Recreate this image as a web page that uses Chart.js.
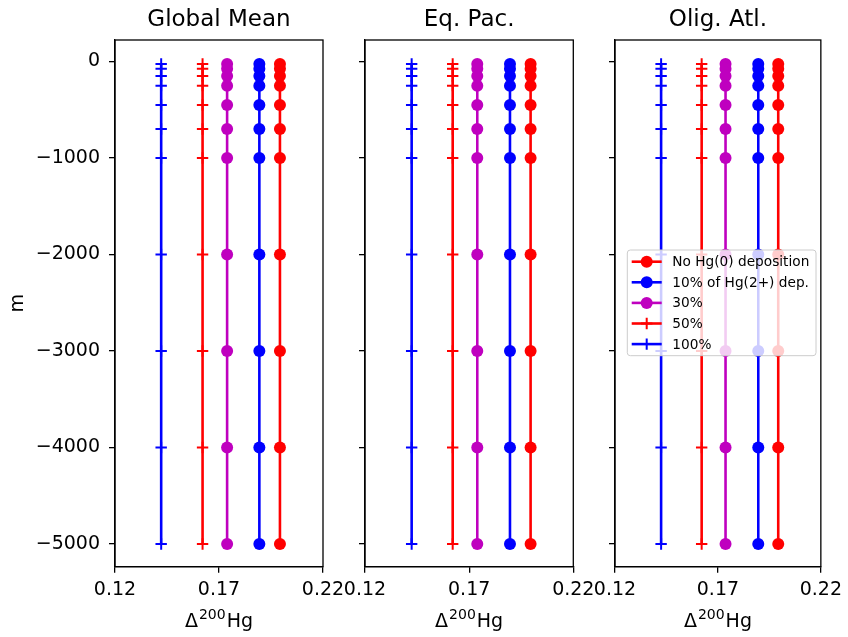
<!DOCTYPE html>
<html>
<head>
<meta charset="utf-8">
<script src="https://cdn.jsdelivr.net/npm/chart.js@4.4.0/dist/chart.umd.min.js"></script>
<style>
    html, body { margin: 0; padding: 0; background: #fff; }
    #wrap { position: relative; width: 848px; height: 637px; }
    canvas { position: absolute; left: 0; top: 0; }
</style>
</head>
<body>
<div id="wrap">
    <canvas id="c1" width="848" height="637"></canvas>
    <canvas id="c2" width="848" height="637"></canvas>
    <canvas id="c3" width="848" height="637"></canvas>
</div>
<script>
// depth levels (m) shared by every profile
const depths = [-25, -75, -150, -250, -450, -700, -1000, -2000, -3000, -4000, -5000];
const xTicks = [0.12, 0.17, 0.22];
const yTicks = [0, -1000, -2000, -3000, -4000, -5000];
const panelTitles = ["Global Mean", "Eq. Pac.", "Olig. Atl."];

const seriesLabels = ["No Hg(0) deposition", "10% of Hg(2+) dep.", "30%", "50%", "100%"];
const seriesColors = ["#ff0000", "#0000ff", "#bf00bf", "#ff0000", "#0000ff"];
const seriesMarkers = ["circle", "circle", "circle", "cross", "cross"];

// Global Mean
const globalNoDep = [0.1993, 0.1993, 0.1993, 0.1993, 0.1993, 0.1993, 0.1993, 0.1993, 0.1993, 0.1993, 0.1993];
const global10 = [0.1894, 0.1894, 0.1894, 0.1894, 0.1894, 0.1894, 0.1894, 0.1894, 0.1894, 0.1894, 0.1894];
const global30 = [0.1739, 0.1739, 0.1739, 0.1739, 0.1739, 0.1739, 0.1739, 0.1739, 0.1739, 0.1739, 0.1739];
const global50 = [0.1621, 0.1621, 0.1621, 0.1621, 0.1621, 0.1621, 0.1621, 0.1621, 0.1621, 0.1621, 0.1621];
const global100 = [0.1422, 0.1422, 0.1422, 0.1422, 0.1422, 0.1422, 0.1422, 0.1422, 0.1422, 0.1422, 0.1422];

// Eq. Pac.
const pacNoDep = [0.1995, 0.1995, 0.1995, 0.1995, 0.1995, 0.1995, 0.1995, 0.1995, 0.1995, 0.1995, 0.1995];
const pac10 = [0.1896, 0.1896, 0.1896, 0.1896, 0.1896, 0.1896, 0.1896, 0.1896, 0.1896, 0.1896, 0.1896];
const pac30 = [0.1739, 0.1739, 0.1739, 0.1739, 0.1739, 0.1739, 0.1739, 0.1739, 0.1739, 0.1739, 0.1739];
const pac50 = [0.1621, 0.1621, 0.1621, 0.1621, 0.1621, 0.1621, 0.1621, 0.1621, 0.1621, 0.1621, 0.1621];
const pac100 = [0.1424, 0.1424, 0.1424, 0.1424, 0.1424, 0.1424, 0.1424, 0.1424, 0.1424, 0.1424, 0.1424];

// Olig. Atl.
const atlNoDep = [0.1993, 0.1993, 0.1993, 0.1993, 0.1993, 0.1993, 0.1993, 0.1993, 0.1993, 0.1993, 0.1993];
const atl10 = [0.1896, 0.1896, 0.1896, 0.1896, 0.1896, 0.1896, 0.1896, 0.1896, 0.1896, 0.1896, 0.1896];
const atl30 = [0.1737, 0.1737, 0.1737, 0.1737, 0.1737, 0.1737, 0.1737, 0.1737, 0.1737, 0.1737, 0.1737];
const atl50 = [0.1621, 0.1621, 0.1621, 0.1621, 0.1621, 0.1621, 0.1621, 0.1621, 0.1621, 0.1621, 0.1621];
const atl100 = [0.1424, 0.1424, 0.1424, 0.1424, 0.1424, 0.1424, 0.1424, 0.1424, 0.1424, 0.1424, 0.1424];

const FONT = "DejaVu Sans";
Chart.defaults.font.family = FONT;
Chart.defaults.color = "#000";

// matplotlib-like box round the axes
const framePlugin = {
    id: "frame",
    afterDraw(chart) {
        const a = chart.chartArea, ctx = chart.ctx;
        ctx.save();
        ctx.strokeStyle = "#000";
        ctx.lineWidth = 1.3;
        ctx.strokeRect(a.left, a.top, a.right - a.left, a.bottom - a.top);
        ctx.restore();
    }
};

// x label with a real superscript: Δ^200 Hg
const xLabelPlugin = {
    id: "xLabel",
    afterDraw(chart) {
        const a = chart.chartArea, ctx = chart.ctx;
        const big = "19px '" + FONT + "'", small = "14px '" + FONT + "'";
        ctx.save();
        ctx.fillStyle = "#000";
        ctx.textBaseline = "alphabetic";
        ctx.font = big;
        const wD = ctx.measureText("Δ").width, wH = ctx.measureText("Hg").width;
        ctx.font = small;
        const wS = ctx.measureText("200").width;
        const total = wD + 1 + wS + 1 + wH;
        let x = (a.left + a.right) / 2 - total / 2;
        const base = a.bottom + 60;
        ctx.font = big;
        ctx.fillText("Δ", x, base);
        x += wD + 1;
        ctx.font = small;
        ctx.fillText("200", x, base - 7.7);
        x += wS + 1;
        ctx.font = big;
        ctx.fillText("Hg", x, base);
        ctx.restore();
    }
};

// legend drawn inside the plot area (like matplotlib)
const insideLegend = {
    id: "insideLegend",
    afterDatasetsDraw(chart, args, opts) {
        if (!opts || !opts.show) return;
        const a = chart.chartArea, ctx = chart.ctx;
        const left = a.left + 12.3, top = a.top + 210, w = 188.7, h = 105.7;
        ctx.save();
        ctx.beginPath();
        ctx.roundRect(left, top, w, h, 3);
        ctx.fillStyle = "rgba(255,255,255,0.8)";
        ctx.fill();
        ctx.strokeStyle = "#cccccc";
        ctx.lineWidth = 1;
        ctx.stroke();
        ctx.font = "13.7px '" + FONT + "'";
        ctx.textBaseline = "middle";
        chart.data.datasets.forEach((ds, i) => {
            const y = top + 11.7 + i * 20.6;
            const mx = left + 19.4;
            ctx.strokeStyle = ds.borderColor;
            ctx.lineWidth = 2.6;
            ctx.beginPath();
            ctx.moveTo(left + 4.4, y);
            ctx.lineTo(left + 34.4, y);
            ctx.stroke();
            if (ds.pointStyle === "circle") {
                ctx.fillStyle = ds.borderColor;
                ctx.beginPath();
                ctx.arc(mx, y, 6, 0, Math.PI * 2);
                ctx.fill();
            } else {
                ctx.lineWidth = 2;
                ctx.beginPath();
                ctx.moveTo(mx - 5.7, y);
                ctx.lineTo(mx + 5.7, y);
                ctx.moveTo(mx, y - 5.7);
                ctx.lineTo(mx, y + 5.7);
                ctx.stroke();
            }
            ctx.fillStyle = "#000";
            ctx.fillText(ds.label, left + 45, y + 1);
        });
        ctx.restore();
    }
};

function makePanel(id, title, values, box, withYLabels, withLegend) {
    const datasets = values.map((vals, i) => ({
        label: seriesLabels[i],
        data: depths.map((d, k) => ({ x: vals[k], y: d })),
        showLine: true,
        borderColor: seriesColors[i],
        backgroundColor: seriesColors[i],
        borderWidth: 2.6,
        pointStyle: seriesMarkers[i],
        pointRadius: seriesMarkers[i] === "circle" ? 6 : 5.7,
        pointBorderWidth: seriesMarkers[i] === "circle" ? 0 : 2,
        pointBackgroundColor: seriesColors[i],
        pointBorderColor: seriesColors[i]
    }));

    new Chart(document.getElementById(id), {
        type: "scatter",
        data: { datasets: datasets },
        options: {
            responsive: false,
            animation: false,
            devicePixelRatio: 1,
            events: [],
            layout: {
                padding: { left: box.left, right: box.right, top: 6.5, bottom: 6.2 }
            },
            plugins: {
                legend: { display: false },
                tooltip: { enabled: false },
                title: {
                    display: true,
                    text: title,
                    fullSize: false,
                    color: "#000",
                    font: { size: 23, weight: "normal", family: FONT },
                    padding: { top: 0, bottom: 5.9 }
                },
                insideLegend: { show: withLegend }
            },
            scales: {
                x: {
                    type: "linear",
                    min: 0.12,
                    max: 0.22,
                    afterBuildTicks: s => { s.ticks = xTicks.map(v => ({ value: v })); },
                    afterFit: s => { s.height = 64.1; },
                    ticks: {
                        callback: v => v.toFixed(2),
                        font: { size: 19 },
                        padding: 6,
                        maxRotation: 0,
                        autoSkip: false
                    },
                    grid: { drawOnChartArea: false, drawTicks: true, tickLength: 6, color: "#000", lineWidth: 1.3 },
                    border: { display: true, color: "#000", width: 1.3 },
                    title: { display: false }
                },
                y: {
                    type: "linear",
                    min: -5235,
                    max: 223,
                    afterBuildTicks: s => { s.ticks = yTicks.map(v => ({ value: v })); },
                    afterFit: s => { s.width = box.yWidth; },
                    ticks: {
                        callback: v => withYLabels ? (v < 0 ? "\u2212" + Math.abs(v) : String(v)) : "",
                        font: { size: 19 },
                        padding: 9,
                        autoSkip: false
                    },
                    grid: { drawOnChartArea: false, drawTicks: true, tickLength: 6, color: "#000", lineWidth: 1.3 },
                    border: { display: true, color: "#000", width: 1.3 },
                    title: {
                        display: withYLabels,
                        text: "m",
                        font: { size: 19 },
                        padding: 0
                    }
                }
            }
        },
        plugins: [framePlugin, xLabelPlugin, insideLegend]
    });
}

makePanel("c1", panelTitles[0], [globalNoDep, global10, global30, global50, global100],
    { left: 6.2, right: 525, yWidth: 108.8 }, true, false);
makePanel("c2", panelTitles[1], [pacNoDep, pac10, pac30, pac50, pac100],
    { left: 355, right: 274.7, yWidth: 10 }, false, false);
makePanel("c3", panelTitles[2], [atlNoDep, atl10, atl30, atl50, atl100],
    { left: 605, right: 24.7, yWidth: 10 }, false, true);
</script>
</body>
</html>
